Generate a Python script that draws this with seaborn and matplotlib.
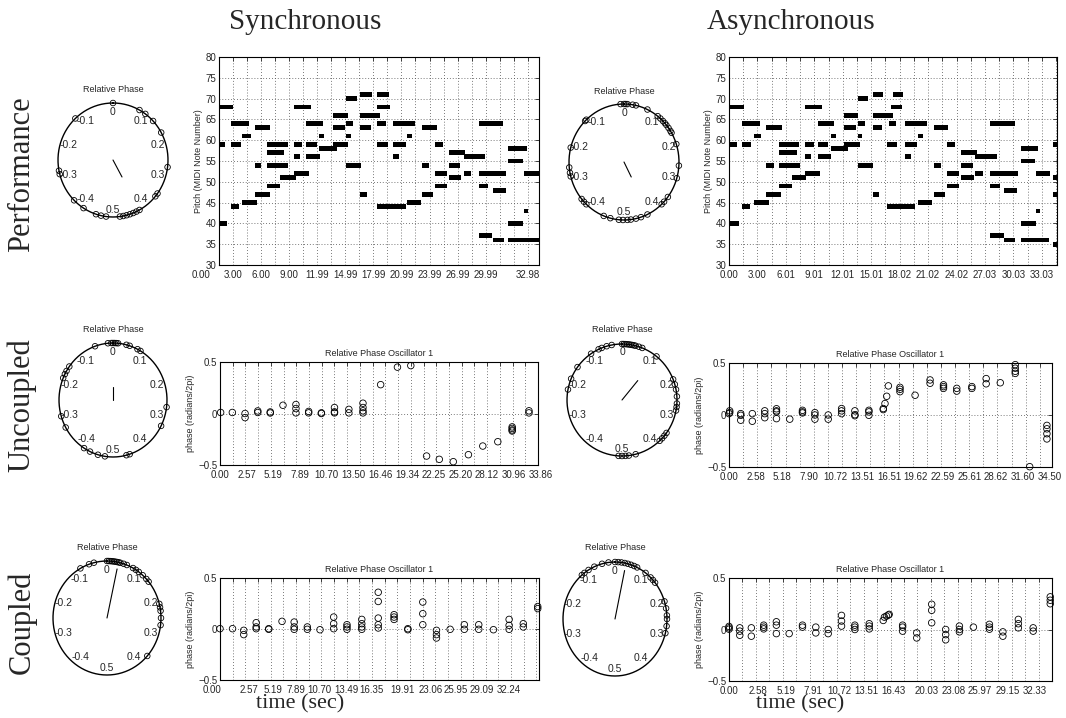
import numpy as np
import seaborn as sns
import matplotlib.pyplot as plt
import matplotlib.transforms as mtransforms
from matplotlib.ticker import MultipleLocator

# ---------------- data ----------------
# Performance piano rolls: note start / end (sec) and MIDI pitch
sync_perf_pitch = [68, 59, 40, 64, 59, 44, 61, 45, 63, 54, 47, 59, 57, 54, 49, 51, 68, 59, 56, 52,
                   64, 59, 56, 61, 58, 66, 63, 59, 70, 64, 61, 54, 71, 66, 63, 47, 71, 68, 64, 59,
                   44, 64, 59, 56, 61, 45, 63, 54, 47, 59, 52, 49, 57, 54, 51, 56, 52, 64, 56, 52,
                   49, 37, 48, 36, 58, 55, 40, 36, 43, 52]
sync_perf_start = [0.04, 0.04, 0.04, 1.24, 1.24, 1.24, 2.48, 2.48, 3.83, 3.83, 3.83, 5.14, 5.14, 5.14,
                   5.14, 6.55, 7.97, 7.97, 7.97, 7.97, 9.32, 9.32, 9.32, 10.73, 10.73, 12.15, 12.15,
                   12.15, 13.57, 13.57, 13.57, 13.57, 15.09, 15.09, 15.09, 15.09, 16.93, 16.93, 16.93,
                   16.93, 16.93, 18.6, 18.6, 18.6, 20.05, 20.05, 21.71, 21.71, 21.71, 23.13, 23.13,
                   23.13, 24.55, 24.55, 24.55, 26.14, 26.14, 27.74, 27.74, 27.74, 27.74, 27.74, 29.33,
                   29.33, 30.93, 30.93, 30.93, 30.93, 32.63, 32.63]
sync_perf_end = [1.45, 0.64, 0.9, 3.19, 2.3, 2.16, 3.37, 4.07, 5.49, 4.53, 5.42, 7.37, 7.0, 7.37, 6.48,
                 8.18, 9.85, 8.89, 8.61, 9.6, 11.16, 10.49, 10.84, 11.26, 12.58, 13.74, 13.46, 13.82,
                 14.7, 14.35, 14.13, 15.16, 16.4, 17.18, 16.22, 15.87, 18.17, 18.24, 17.82, 18.1, 19.94,
                 21.0, 19.94, 19.24, 20.58, 21.54, 23.31, 22.42, 22.88, 23.91, 24.37, 24.37, 26.32,
                 25.79, 25.9, 28.45, 26.96, 30.39, 28.45, 30.64, 28.73, 29.22, 30.64, 30.5, 32.87,
                 32.52, 32.52, 34.2, 33.05, 34.2]

async_perf_pitch = sync_perf_pitch + [59, 51, 47, 35]
async_perf_start = [0.07, 0.07, 0.07, 1.41, 1.41, 1.41, 2.6, 2.6, 3.94, 3.94, 3.94, 5.28, 5.28, 5.28,
                    5.28, 6.65, 8.06, 8.06, 8.06, 8.06, 9.4, 9.4, 9.4, 10.74, 10.74, 12.11, 12.11,
                    12.11, 13.63, 13.63, 13.63, 13.63, 15.14, 15.14, 15.14, 15.14, 17.25, 17.04, 16.9,
                    16.69, 16.69, 18.56, 18.56, 18.56, 19.96, 19.96, 21.62, 21.62, 21.62, 23.03, 23.03,
                    23.03, 24.44, 24.44, 24.44, 25.95, 25.95, 27.54, 27.54, 27.54, 27.54, 27.54, 29.01,
                    29.01, 30.77, 30.77, 30.77, 30.77, 32.39, 32.39, 34.2, 34.2, 34.2, 34.2]
async_perf_end = [1.55, 0.85, 1.06, 3.24, 2.36, 2.25, 3.42, 4.23, 5.6, 4.72, 5.53, 7.39, 7.18, 7.46,
                  6.65, 8.17, 9.86, 8.94, 8.6, 9.65, 11.06, 10.46, 10.81, 11.27, 12.57, 13.63, 13.38,
                  13.8, 14.68, 14.33, 14.08, 15.14, 16.27, 17.25, 16.09, 15.85, 18.38, 18.2, 17.6,
                  17.75, 19.61, 20.85, 19.86, 19.15, 20.49, 21.37, 23.13, 22.32, 22.78, 23.84, 24.3,
                  24.3, 26.13, 25.77, 25.85, 28.24, 26.76, 30.18, 28.24, 30.53, 28.59, 29.01, 30.42,
                  30.18, 32.64, 32.29, 32.39, 33.8, 32.82, 33.87, 35.0, 35.0, 35.0, 35.0]

sync_perf_labels = ["0.00", "3.00", "6.00", "9.00", "11.99", "14.99", "17.99", "20.99", "23.99",
                    "26.99", "29.99", "32.98"]
async_perf_labels = ["0.00", "3.00", "6.01", "9.01", "12.01", "15.01", "18.02", "21.02", "24.02",
                     "27.03", "30.03", "33.03"]

# Relative phase oscillator 1: x in beat-grid units, phase in radians/2pi
sync_unc_x = [0.05, 0.97, 1.97, 1.97, 2.97, 2.97, 3.95, 3.95, 4.95, 5.97, 5.97, 5.97, 6.97, 6.97,
              7.97, 7.97, 9.0, 9.0, 9.0, 10.13, 10.13, 11.24, 11.24, 11.24, 11.24, 12.63, 13.95,
              15.0, 16.24, 17.24, 18.34, 19.53, 20.66, 21.84, 22.97, 22.97, 22.97, 22.97, 24.29, 24.29]
sync_unc_y = [0.01, 0.01, 0.0, -0.04, 0.025, 0.01, 0.015, 0.005, 0.08, 0.087, 0.048, 0.006, 0.02,
              0.006, 0.006, 0.0, 0.058, 0.016, 0.006, 0.04, 0.006, 0.1, 0.058, 0.026, 0.006, 0.28,
              0.45, 0.465, -0.413, -0.445, -0.468, -0.4, -0.316, -0.274, -0.13, -0.145, -0.16,
              -0.17, 0.026, 0.006]
sync_unc_labels = ["0.00", "2.57", "5.19", "7.89", "10.70", "13.50", "16.46", "19.34", "22.25",
                   "25.20", "28.12", "30.96", "33.86"]

async_unc_x = [0, 0.05, 0.05, 0.83, 0.83, 0.83, 1.65, 1.65, 2.53, 2.53, 2.53, 3.36, 3.36, 3.36, 3.36,
               4.3, 5.2, 5.2, 5.2, 6.08, 6.08, 6.08, 7.02, 7.02, 7.97, 7.97, 7.97, 8.91, 8.91, 8.91,
               9.9, 9.9, 9.9, 10.92, 10.92, 11.04, 11.16, 11.28, 12.1, 12.1, 12.1, 13.17, 14.23,
               14.23, 15.18, 15.18, 15.18, 16.12, 16.12, 17.19, 17.19, 18.2, 18.2, 19.2, 20.26,
               20.26, 20.26, 20.26, 21.28, 22.5, 22.5, 22.5, 22.5]
async_unc_y = [0.013, 0.04, 0.023, 0.013, -0.003, -0.05, 0.013, -0.06, 0.04, 0.013, -0.026, 0.06,
               0.04, 0.03, -0.035, -0.04, 0.045, 0.03, 0.02, 0.023, 0.0, -0.04, 0.0, -0.04, 0.062,
               0.04, 0.013, 0.04, 0.003, -0.007, 0.045, 0.03, -0.003, 0.052, 0.062, 0.11, 0.18, 0.28,
               0.266, 0.247, 0.224, 0.19, 0.337, 0.305, 0.29, 0.273, 0.256, 0.256, 0.23, 0.273,
               0.256, 0.35, 0.3, 0.31, 0.484, 0.45, 0.42, 0.40, -0.497, -0.1, -0.133, -0.18, -0.23]
async_unc_labels = ["0.00", "2.58", "5.18", "7.90", "10.72", "13.51", "16.51", "19.62", "22.59",
                    "25.61", "28.62", "31.60", "34.50"]

sync_cpl_x = [0, 0.99, 1.875, 1.875, 2.86, 2.86, 2.86, 3.85, 3.85, 4.9, 5.86, 5.86, 5.86, 6.9, 6.9,
              7.9, 8.98, 8.98, 8.98, 10.03, 10.03, 10.03, 11.2, 11.2, 11.2, 11.2, 12.5, 12.5, 12.5,
              12.5, 12.5, 13.75, 13.75, 13.75, 14.84, 14.84, 16.02, 16.02, 16.02, 17.1, 17.1, 17.1,
              18.18, 19.3, 19.3, 20.44, 20.44, 21.6, 22.84, 22.84, 22.84, 23.96, 23.96, 25.1, 25.1]
sync_cpl_y = [0.003, 0.003, -0.013, -0.055, 0.062, 0.02, 0.003, 0.003, -0.003, 0.075, 0.068, 0.02,
              -0.003, 0.02, -0.003, -0.007, 0.117, 0.052, 0.003, 0.042, 0.02, -0.003, 0.094, 0.052,
              0.02, -0.003, 0.36, 0.27, 0.107, 0.042, 0.01, 0.14, 0.117, 0.094, 0.003, -0.007,
              0.264, 0.15, 0.042, -0.013, -0.055, -0.088, -0.003, 0.042, -0.003, 0.042, -0.003,
              -0.007, 0.094, 0.036, -0.003, 0.052, 0.02, 0.22, 0.2]
sync_cpl_labels = ["0.00", "2.57", "5.19", "7.89", "10.70", "13.49", "16.35", "19.91", "23.06",
                   "25.95", "29.09", "32.24"]

async_cpl_x = [0, 0, 0, 0.8, 0.8, 0.8, 1.66, 1.66, 2.58, 2.58, 2.58, 3.52, 3.52, 3.52, 4.47, 5.46,
               5.46, 6.45, 6.45, 7.37, 7.37, 8.36, 8.36, 8.36, 9.35, 9.35, 9.35, 10.42, 10.42,
               10.42, 11.46, 11.55, 11.7, 11.84, 11.9, 12.9, 12.9, 12.9, 13.95, 13.95, 15.06,
               15.06, 15.06, 16.1, 16.1, 16.1, 17.12, 17.12, 17.12, 18.16, 19.35, 19.35, 19.35,
               20.35, 20.35, 21.5, 21.5, 21.5, 22.6, 22.6, 23.87, 23.87, 23.87]
async_cpl_y = [0.03, 0.016, 0.003, 0.016, -0.016, -0.056, 0.016, -0.065, 0.042, 0.023, 0.006, 0.075,
               0.042, -0.04, -0.04, 0.042, 0.023, 0.023, -0.033, 0.0, -0.04, 0.137, 0.082, 0.033,
               0.042, 0.023, 0.0, 0.056, 0.033, 0.006, 0.088, 0.12, 0.13, 0.14, 0.147, 0.042, 0.023,
               -0.016, -0.033, -0.082, 0.245, 0.186, 0.065, 0.0, -0.05, -0.1, 0.033, 0.0, -0.023,
               0.023, 0.05, 0.023, 0.003, -0.023, -0.065, 0.098, 0.056, 0.016, 0.016, -0.016, 0.317,
               0.284, 0.25]
async_cpl_labels = ["0.00", "2.58", "5.19", "7.91", "10.72", "13.51", "16.43", "20.03", "23.08",
                    "25.97", "29.15", "32.33"]

# Relative phase circles: phase of each event, and the mean vector (phase, length)
circ_sync_perf = [0.0, 0.08, 0.10, 0.13, 0.17, 0.27, 0.35, 0.36, 0.42, 0.43, 0.44, 0.45, 0.46, 0.47,
                  0.48, -0.48, -0.465, -0.45, -0.41, -0.375, -0.28, -0.29, -0.12]
circ_async_perf = [-0.01, 0.0, 0.005, 0.01, 0.025, 0.035, 0.07, 0.105, 0.115, 0.125, 0.133, 0.14,
                   0.15, 0.16, 0.166, 0.2, 0.26, 0.295, 0.353, 0.37, 0.38, 0.43, 0.45, 0.465, 0.48,
                   0.49, -0.497, -0.485, -0.46, -0.44, -0.38, -0.37, -0.36, -0.29, -0.28, -0.265,
                   -0.21, -0.125, -0.12]
circ_sync_unc = [-0.015, -0.005, 0.0, 0.005, 0.01, 0.015, 0.04, 0.05, 0.075, 0.085, 0.27, 0.325,
                 0.45, 0.46, -0.476, -0.455, -0.43, -0.41, -0.33, -0.296, -0.187, -0.175, -0.165,
                 -0.15, -0.054]
circ_async_unc = [0.0, 0.005, 0.01, 0.015, 0.02, 0.025, 0.03, 0.035, 0.04, 0.05, 0.06, -0.03, -0.045,
                  -0.06, -0.07, -0.095, -0.15, -0.188, -0.22, 0.108, 0.19, 0.205, 0.22, 0.24, 0.26,
                  0.27, 0.28, 0.35, 0.36, 0.37, 0.38, 0.46, 0.48, 0.49, -0.5, -0.49]
circ_sync_cpl = [-0.082, -0.054, -0.039, 0.0, 0.005, 0.01, 0.015, 0.02, 0.025, 0.03, 0.035, 0.04,
                 0.05, 0.06, 0.08, 0.09, 0.10, 0.115, 0.13, 0.14, 0.21, 0.22, 0.23, 0.25, 0.27, 0.366]
circ_async_cpl = [-0.11, -0.1, -0.085, -0.065, -0.04, -0.02, 0.0, 0.01, 0.02, 0.03, 0.04, 0.05, 0.06,
                  0.07, 0.1, 0.12, 0.13, 0.14, 0.2, 0.22, 0.24, 0.25, 0.27, 0.29]
mean_phase = [0.42, 0.425, 0.0, 0.11, 0.034, 0.034]
mean_length = [0.34, 0.29, 0.22, 0.45, 0.88, 0.87]
circle_labels = ["0", "0.1", "0.2", "0.3", "0.4", "0.5", "-0.4", "-0.3", "-0.2", "-0.1"]
circle_label_values = [0, 0.1, 0.2, 0.3, 0.4, 0.5, -0.4, -0.3, -0.2, -0.1]

# ---------------- figure ----------------
sns.set_style("white")
plt.rcParams["font.family"] = ["Liberation Sans", "DejaVu Sans"]
SERIF = ["Liberation Serif", "DejaVu Serif"]

W, H = 1066, 718
fig = plt.figure(figsize=(W / 100, H / 100), dpi=100)
DOT = (0, (1, 2.5))
TICK_FS = 7


def px_axes(left, top, right, bottom):
    return fig.add_axes([left / W, 1 - bottom / H, (right - left) / W, (bottom - top) / H])


def style_box(ax, grid_step):
    for s in ax.spines.values():
        s.set_visible(True)
        s.set_color("black")
        s.set_linewidth(0.8)
    ax.xaxis.set_minor_locator(MultipleLocator(grid_step))
    ax.set_xticks([])
    ax.tick_params(which="both", direction="in", top=True, right=True, length=3, width=0.6,
                   labelsize=TICK_FS, pad=2)
    ax.grid(True, which="minor", axis="x", linestyle=DOT, color="0.3", linewidth=0.6)
    ax.grid(True, which="major", axis="y", linestyle=DOT, color="0.3", linewidth=0.6)


def x_labels(ax, pos, labels):
    # MATLAB-style time labels under the beat grid
    trans = mtransforms.blended_transform_factory(ax.transData, ax.transAxes)
    trans = trans + mtransforms.ScaledTranslation(0, -3.5 / 72, fig.dpi_scale_trans)
    for p, lab in zip(pos, labels):
        ax.text(p, 0, lab, transform=trans, ha="center", va="top", fontsize=TICK_FS, clip_on=False)


def piano_roll(box, start, end, pitch, xmax, label_pos, labels):
    ax = px_axes(*box)
    dur = np.array(end) - np.array(start)
    ax.barh(pitch, dur, left=start, height=1.15, color="black", linewidth=0)
    ax.set_xlim(0, xmax)
    ax.set_ylim(30, 80)
    ax.set_yticks(np.arange(30, 81, 5))
    style_box(ax, 1.5)
    ax.set_ylabel("Pitch (MIDI Note Number)", fontsize=6.5, labelpad=2)
    x_labels(ax, label_pos, labels)
    return ax


def phase_panel(box, xs, ys, xmax, label_pos, labels):
    ax = px_axes(*box)
    sns.scatterplot(x=xs, y=ys, ax=ax, marker="o", s=22, facecolors="none", edgecolor="black",
                    linewidth=0.6, clip_on=False, zorder=3, legend=False)
    ax.set_xlim(0, xmax)
    ax.set_ylim(-0.5, 0.5)
    ax.set_yticks([-0.5, 0, 0.5])
    ax.set_yticklabels(["\u22120.5", "0", "0.5"])
    style_box(ax, 1)
    ax.set_title("Relative Phase Oscillator 1", fontsize=6.5, pad=4)
    ax.set_ylabel("phase (radians/2pi)", fontsize=6.5, labelpad=2)
    x_labels(ax, label_pos, labels)
    return ax


def phase_circle(cx, cy, rx, ry, phases, mph, mlen):
    k = 1.15
    ax = px_axes(cx - k * rx, cy - k * ry, cx + k * rx, cy + k * ry)
    t = np.linspace(0, 2 * np.pi, 361)
    ax.plot(np.sin(t), np.cos(t), color="black", linewidth=1.0)
    ph = 2 * np.pi * np.array(phases)
    sns.scatterplot(x=np.sin(ph), y=np.cos(ph), ax=ax, marker="o", s=16, facecolors="none",
                    edgecolor="black", linewidth=0.6, clip_on=False, zorder=3, legend=False)
    a = 2 * np.pi * mph
    ax.plot([0, mlen * np.sin(a)], [0, mlen * np.cos(a)], color="black", linewidth=0.8)
    for v, lab in zip(circle_label_values, circle_labels):
        r = 0.85 if abs(v) < 0.45 else 0.87
        ax.text(r * np.sin(2 * np.pi * v), r * np.cos(2 * np.pi * v), lab, ha="center",
                va="center", fontsize=7.5)
    ax.set_xlim(-k, k)
    ax.set_ylim(-k, k)
    ax.set_axis_off()
    fig.text(cx / W, 1 - (cy - 71) / H, "Relative Phase", ha="center", va="center", fontsize=6.5)


# row 1: performance
piano_roll((219, 57, 539, 265), sync_perf_start, sync_perf_end, sync_perf_pitch, 34.2,
           [-1.9, 1.5, 4.5, 7.5, 10.5, 13.5, 16.5, 19.5, 22.5, 25.5, 28.5, 33.0], sync_perf_labels)
piano_roll((729, 57, 1057, 265), async_perf_start, async_perf_end, async_perf_pitch, 34.6,
           [0, 3, 6, 9, 12, 15, 18, 21, 24, 27, 30, 33], async_perf_labels)

# row 2: uncoupled
phase_panel((220, 362, 538, 465), sync_unc_x, sync_unc_y, 25,
            [0, 2.1, 4.2, 6.3, 8.4, 10.5, 12.6, 14.7, 16.8, 18.9, 21.0, 23.1, 25.2], sync_unc_labels)
phase_panel((729, 363, 1052, 467), async_unc_x, async_unc_y, 22.86,
            [0, 1.89, 3.78, 5.67, 7.56, 9.45, 11.34, 13.23, 15.12, 17.01, 18.9, 20.79, 22.68],
            async_unc_labels)

# row 3: coupled
phase_panel((220, 578, 539, 680), sync_cpl_x, sync_cpl_y, 25.2,
            [-0.6, 2.3, 4.17, 6.0, 7.86, 9.95, 11.93, 14.45, 16.67, 18.62, 20.7, 22.8], sync_cpl_labels)
phase_panel((729, 578, 1052, 681), async_cpl_x, async_cpl_y, 24.0,
            [0, 2.16, 4.27, 6.25, 8.19, 10.22, 12.2, 14.7, 16.67, 18.66, 20.7, 22.75], async_cpl_labels)

# relative phase circles
circle_geom = [(113, 160, 55, 57), (624, 162, 55, 58), (113, 400, 54, 57),
               (622, 400, 55, 56), (107, 618, 54, 57), (615, 619, 52, 57)]
circle_data = [circ_sync_perf, circ_async_perf, circ_sync_unc, circ_async_unc,
               circ_sync_cpl, circ_async_cpl]
for (cx, cy, rx, ry), ph, mp, ml in zip(circle_geom, circle_data, mean_phase, mean_length):
    phase_circle(cx, cy, rx, ry, ph, mp, ml)

# headings
fig.text(305 / W, 1 - 22 / H, "Synchronous", ha="center", va="center", family=SERIF, fontsize=21)
fig.text(791 / W, 1 - 22 / H, "Asynchronous", ha="center", va="center", family=SERIF, fontsize=21)
for y, lab in [(174, "Performance"), (405, "Uncoupled"), (622, "Coupled")]:
    fig.text(22 / W, 1 - y / H, lab, ha="center", va="center", rotation=90, family=SERIF, fontsize=22)
for x in (300, 800):
    fig.text(x / W, 1 - 704 / H, "time (sec)", ha="center", va="center", family=SERIF, fontsize=16)

fig.savefig("out.png", dpi=100)
